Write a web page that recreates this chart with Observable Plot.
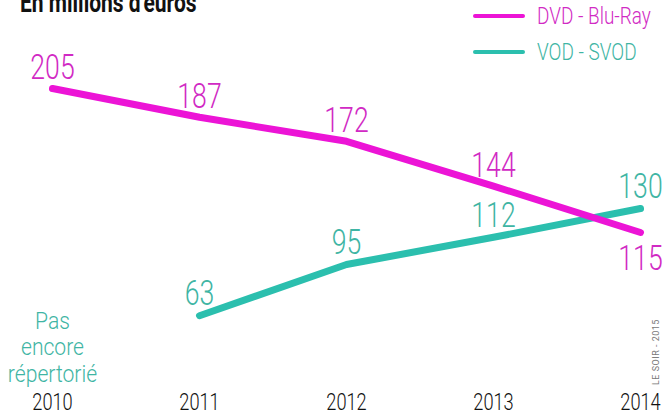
<!DOCTYPE html>
<html>
<head>
<meta charset="utf-8">
<script src="https://cdn.jsdelivr.net/npm/d3@7"></script>
<script src="https://cdn.jsdelivr.net/npm/@observablehq/plot@0.6"></script>
<style>
  html, body { margin: 0; padding: 0; background: #fff; }
  #wrap { position: relative; width: 664px; height: 413px; overflow: hidden;
    font-family: Roboto, "Open Sans", sans-serif; }
  #title { position: absolute; left: 20px; top: -14px; font-family: Roboto, "Liberation Sans", sans-serif;
    font-weight: bold; font-size: 28px; color: #111; white-space: nowrap;
    transform-origin: 0 0; transform: scaleX(0.75); }
  .leg { position: absolute; left: 473px; display: flex; align-items: center; white-space: nowrap; }
  .leg span.sw { display: inline-block; width: 52px; height: 4px; border-radius: 2px; margin-right: 12px; }
  .leg span.tx { display: inline-block; font-size: 24px; font-weight: 300; transform-origin: 0 50%; transform: scaleX(0.79); }
  #credit { position: absolute; left: 651px; top: 385px; transform-origin: 0 0; transform: rotate(-90deg);
    font-size: 9px; color: #777; white-space: nowrap; letter-spacing: 0.5px; }
</style>
</head>
<body>
<div id="wrap">
  <div id="chart"></div>
  <div id="title">En millions d'euros</div>
  <div class="leg" style="top:2px;color:#d12ac4"><span class="sw" style="background:#ec14d6"></span><span class="tx">DVD - Blu-Ray</span></div>
  <div class="leg" style="top:38px;color:#3fb5a4"><span class="sw" style="background:#2bbfae"></span><span class="tx">VOD - SVOD</span></div>
  <div id="credit">LE SOIR - 2015</div>
</div>
<script>
const years = [2010, 2011, 2012, 2013, 2014];
const dvdYears = [2010, 2011, 2012, 2013, 2014];
const dvdValues = [205, 187, 172, 144, 115];
const vodYears = [2011, 2012, 2013, 2014];
const vodValues = [63, 95, 112, 130];
const missingNote = "Pas\nencore\nrépertorié";

const dvd = dvdYears.map((y, i) => ({year: y, value: dvdValues[i]}));
const vod = vodYears.map((y, i) => ({year: y, value: vodValues[i]}));
const dvdLast = dvd[dvd.length - 1].year;

const magentaLine = "#ec14d6", magentaText = "#d12ac4";
const tealLine = "#2bbfae", tealText = "#3fb5a4";
const font = "Roboto, Open Sans, sans-serif";

const chart = Plot.plot({
  width: 664,
  height: 413,
  margin: 0,
  style: {fontFamily: font, background: "transparent", overflow: "visible"},
  x: {domain: [2010, 2014], range: [52, 640], axis: null},
  y: {domain: [115, 205], range: [232, 88], axis: null},
  marks: [
    Plot.line(vod, {x: "year", y: "value", stroke: tealLine, strokeWidth: 7, strokeLinecap: "round"}),
    Plot.line(dvd, {x: "year", y: "value", stroke: magentaLine, strokeWidth: 7, strokeLinecap: "round"}),
    Plot.text(dvd.filter(d => d.year !== dvdLast), {x: "year", y: "value", text: d => String(d.value),
      fill: magentaText, fontSize: 36, fontWeight: 300, dy: -21, className: "sq74"}),
    Plot.text(dvd.filter(d => d.year === dvdLast), {x: "year", y: "value", text: d => String(d.value),
      fill: magentaText, fontSize: 36, fontWeight: 300, dy: 26, className: "sq74"}),
    Plot.text(vod, {x: "year", y: "value", text: d => String(d.value), fill: tealText, fontSize: 36,
      fontWeight: 300, dy: -22, className: "sq74"}),
    Plot.text(years, {x: d => d, text: d => String(d), frameAnchor: "bottom", lineAnchor: "bottom",
      dy: -4, fill: "#111", fontSize: 24, fontWeight: 300, className: "sq76"}),
    Plot.text([2010], {x: d => d, text: () => missingNote, frameAnchor: "bottom", lineAnchor: "bottom",
      dy: -32, fill: tealText, fontSize: 24, fontWeight: 300, lineHeight: 1.1, className: "sq88"})
  ]
});
// condense the glyphs horizontally around each text's anchor
const squeeze = {sq74: 0.74, sq76: 0.76, sq88: 0.88};
Object.entries(squeeze).forEach(([cls, k]) => {
  chart.querySelectorAll(`g.${cls} text`).forEach(t => {
    const tr = t.getAttribute("transform");
    if (tr && /translate/.test(tr)) {
      t.setAttribute("transform", tr + ` scale(${k},1)`);
    } else {
      const x = +t.getAttribute("x") || 0, y = +t.getAttribute("y") || 0;
      t.setAttribute("transform", `translate(${x},${y}) scale(${k},1) translate(${-x},${-y})`);
    }
  });
});
document.getElementById("chart").appendChild(chart);
</script>
</body>
</html>
